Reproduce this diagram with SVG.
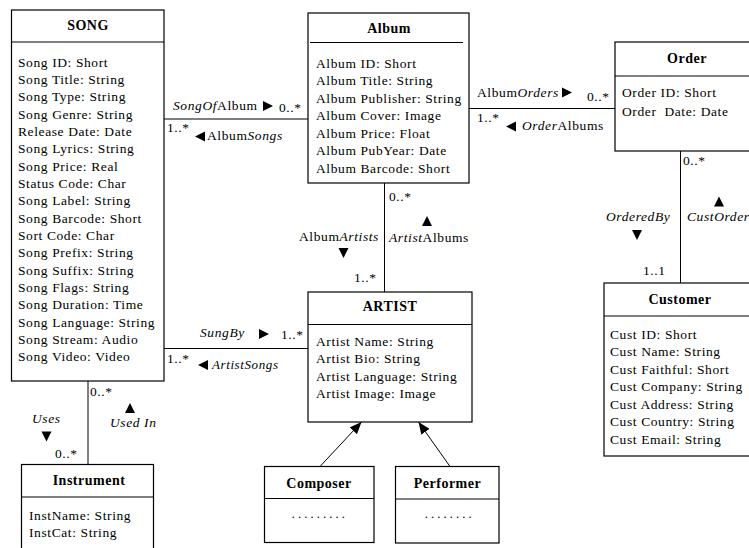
<svg xmlns="http://www.w3.org/2000/svg" width="749" height="548" viewBox="0 0 749 548">
  <style>
    .box { fill: #fff; stroke: #000; stroke-width: 1.2; }
    .sep { stroke: #000; stroke-width: 1.2; }
    .line { stroke: #000; stroke-width: 1; fill: none; }
    text { font-family: "Liberation Serif", "Times New Roman", serif; fill: #000; }
    .title { font-size: 14px; font-weight: bold; text-anchor: middle; letter-spacing: 0.5px; }
    .attr { font-size: 13.5px; letter-spacing: 0.6px; white-space: pre; }
    .lbl { font-size: 13.5px; letter-spacing: 0.6px; }
    .it { font-style: italic; }
    .dots { font-size: 13px; font-style: italic; text-anchor: middle; letter-spacing: 3px; }
    .tri { fill: #000; }
  </style>
  <defs>
    <marker id="inherit" viewBox="0 0 12 10" refX="12" refY="5" markerWidth="12" markerHeight="10" markerUnits="userSpaceOnUse" orient="auto">
      <path d="M0,0 L12,5 L0,10 Z" fill="#000"/>
    </marker>
    <path id="triR" d="M0,-5 L10,0 L0,5 Z"/>
    <path id="triL" d="M10,-5 L0,0 L10,5 Z"/>
    <path id="triU" d="M-5,10 L0,0 L5,10 Z"/>
    <path id="triD" d="M-5,0 L5,0 L0,10 Z"/>
  </defs>

  <rect width="749" height="548" fill="#fff"/>

  <!-- connectors and role labels -->
  <g id="connectors">
    <g id="song-album">
      <line class="line" x1="164" y1="119" x2="308" y2="119"/>
      <text class="lbl" x="173" y="110"><tspan class="it">SongOf</tspan>Album</text>
      <use href="#triR" class="tri" x="263" y="106"/>
      <text class="lbl" x="279" y="112">0..*</text>
      <text class="lbl" x="167" y="131.5">1..*</text>
      <use href="#triL" class="tri" x="195" y="136.5"/>
      <text class="lbl" x="207" y="140">Album<tspan class="it">Songs</tspan></text>
    </g>
    <g id="album-order">
      <line class="line" x1="469" y1="108.5" x2="615" y2="108.5"/>
      <text class="lbl" x="477" y="97">Album<tspan class="it">Orders</tspan></text>
      <use href="#triR" class="tri" x="562" y="92.5"/>
      <text class="lbl" x="587" y="100.5">0..*</text>
      <text class="lbl" x="477" y="121.5">1..*</text>
      <use href="#triL" class="tri" x="506" y="126.5"/>
      <text class="lbl" x="522" y="129.5"><tspan class="it">Order</tspan>Albums</text>
    </g>
    <g id="order-customer">
      <line class="line" x1="680.5" y1="151" x2="680.5" y2="283"/>
      <text class="lbl" x="683" y="165">0..*</text>
      <text class="lbl it" x="606" y="221">OrderedBy</text>
      <use href="#triD" class="tri" x="637" y="230"/>
      <use href="#triU" class="tri" x="719" y="196.5"/>
      <text class="lbl it" x="687" y="221">CustOrders</text>
      <text class="lbl" x="643" y="275">1..1</text>
    </g>
    <g id="album-artist">
      <line class="line" x1="384.5" y1="183" x2="384.5" y2="292"/>
      <text class="lbl" x="389" y="201">0..*</text>
      <use href="#triU" class="tri" x="427" y="216"/>
      <text class="lbl" x="389" y="241.5"><tspan class="it">Artist</tspan>Albums</text>
      <text class="lbl" x="299" y="241">Album<tspan class="it">Artists</tspan></text>
      <use href="#triD" class="tri" x="343.5" y="248"/>
      <text class="lbl" x="354" y="281.5">1..*</text>
    </g>
    <g id="song-artist">
      <line class="line" x1="164" y1="348.5" x2="308" y2="348.5"/>
      <text class="lbl it" x="200" y="337">SungBy</text>
      <use href="#triR" class="tri" x="259" y="334"/>
      <text class="lbl" x="281" y="339">1..*</text>
      <text class="lbl" x="167" y="363">1..*</text>
      <use href="#triL" class="tri" x="198" y="365"/>
      <text class="lbl it" x="212" y="369" style="font-size:13px">ArtistSongs</text>
    </g>
    <g id="song-instrument">
      <line class="line" x1="88" y1="381" x2="88" y2="464.5"/>
      <text class="lbl" x="90" y="396">0..*</text>
      <text class="lbl it" x="32" y="423">Uses</text>
      <use href="#triD" class="tri" x="46.5" y="431.5"/>
      <text class="lbl" x="55" y="458">0..*</text>
      <use href="#triU" class="tri" x="130" y="403"/>
      <text class="lbl it" x="110" y="427">Used In</text>
    </g>
    <g id="generalizations">
      <line class="line" x1="320" y1="466.5" x2="361.5" y2="422" marker-end="url(#inherit)"/>
      <line class="line" x1="450" y1="466.5" x2="418.5" y2="422" marker-end="url(#inherit)"/>
    </g>
  </g>

  <!-- classes -->
  <g id="song">
    <rect class="box" x="11.5" y="10" width="152.5" height="371"/>
    <line class="sep" x1="11.5" y1="42" x2="164" y2="42"/>
    <text class="title" x="88" y="30">SONG</text>
    <text class="attr" x="18" y="66.5">Song ID: Short</text>
    <text class="attr" x="18" y="83.85">Song Title: String</text>
    <text class="attr" x="18" y="101.2">Song Type: String</text>
    <text class="attr" x="18" y="118.55">Song Genre: String</text>
    <text class="attr" x="18" y="135.9">Release Date: Date</text>
    <text class="attr" x="18" y="153.25">Song Lyrics: String</text>
    <text class="attr" x="18" y="170.6">Song Price: Real</text>
    <text class="attr" x="18" y="187.95">Status Code: Char</text>
    <text class="attr" x="18" y="205.3">Song Label: String</text>
    <text class="attr" x="18" y="222.65">Song Barcode: Short</text>
    <text class="attr" x="18" y="240">Sort Code: Char</text>
    <text class="attr" x="18" y="257.35">Song Prefix: String</text>
    <text class="attr" x="18" y="274.7">Song Suffix: String</text>
    <text class="attr" x="18" y="292.05">Song Flags: String</text>
    <text class="attr" x="18" y="309.4">Song Duration: Time</text>
    <text class="attr" x="18" y="326.75">Song Language: String</text>
    <text class="attr" x="18" y="344.1">Song Stream: Audio</text>
    <text class="attr" x="18" y="361.45">Song Video: Video</text>
  </g>

  <g id="album">
    <rect class="box" x="308" y="13" width="161" height="170"/>
    <line class="sep" x1="310" y1="42.5" x2="463" y2="42.5"/>
    <text class="title" x="389" y="33">Album</text>
    <text class="attr" x="316" y="67.5">Album ID: Short</text>
    <text class="attr" x="316" y="85">Album Title: String</text>
    <text class="attr" x="316" y="102.5">Album Publisher: String</text>
    <text class="attr" x="316" y="120">Album Cover: Image</text>
    <text class="attr" x="316" y="137.5">Album Price: Float</text>
    <text class="attr" x="316" y="155">Album PubYear: Date</text>
    <text class="attr" x="316" y="172.5">Album Barcode: Short</text>
  </g>

  <g id="order">
    <rect class="box" x="615" y="42" width="150" height="109"/>
    <line class="sep" x1="615" y1="76" x2="749" y2="76"/>
    <text class="title" x="687" y="63">Order</text>
    <text class="attr" x="622" y="97">Order ID: Short</text>
    <text class="attr" x="622" y="116">Order  Date: Date</text>
  </g>

  <g id="customer">
    <rect class="box" x="604" y="283" width="160" height="173"/>
    <line class="sep" x1="604" y1="316" x2="749" y2="316"/>
    <text class="title" x="680" y="304">Customer</text>
    <text class="attr" x="610" y="338.5">Cust ID: Short</text>
    <text class="attr" x="610" y="356">Cust Name: String</text>
    <text class="attr" x="610" y="373.5">Cust Faithful: Short</text>
    <text class="attr" x="610" y="391">Cust Company: String</text>
    <text class="attr" x="610" y="408.5">Cust Address: String</text>
    <text class="attr" x="610" y="426">Cust Country: String</text>
    <text class="attr" x="610" y="443.5">Cust Email: String</text>
  </g>

  <g id="artist">
    <rect class="box" x="308" y="292" width="164" height="130"/>
    <line class="sep" x1="308" y1="324.5" x2="472" y2="324.5"/>
    <text class="title" x="390" y="311">ARTIST</text>
    <text class="attr" x="316" y="346">Artist Name: String</text>
    <text class="attr" x="316" y="363.3">Artist Bio: String</text>
    <text class="attr" x="316" y="380.6">Artist Language: String</text>
    <text class="attr" x="316" y="397.9">Artist Image: Image</text>
  </g>

  <g id="instrument">
    <rect class="box" x="21.5" y="464.5" width="132" height="100"/>
    <line class="sep" x1="21.5" y1="497" x2="153.5" y2="497"/>
    <text class="title" x="89" y="485">Instrument</text>
    <text class="attr" x="29" y="519.5">InstName: String</text>
    <text class="attr" x="29" y="537">InstCat: String</text>
  </g>

  <g id="composer">
    <rect class="box" x="264.5" y="466.5" width="109.5" height="76"/>
    <line class="sep" x1="264.5" y1="498.5" x2="374" y2="498.5"/>
    <text class="title" x="319" y="487.5">Composer</text>
    <text class="dots" x="320" y="518">.........</text>
  </g>

  <g id="performer">
    <rect class="box" x="395.5" y="466.5" width="103.5" height="76.5"/>
    <line class="sep" x1="395.5" y1="499" x2="499" y2="499"/>
    <text class="title" x="447.5" y="487.5">Performer</text>
    <text class="dots" x="450" y="518">........</text>
  </g>
</svg>
